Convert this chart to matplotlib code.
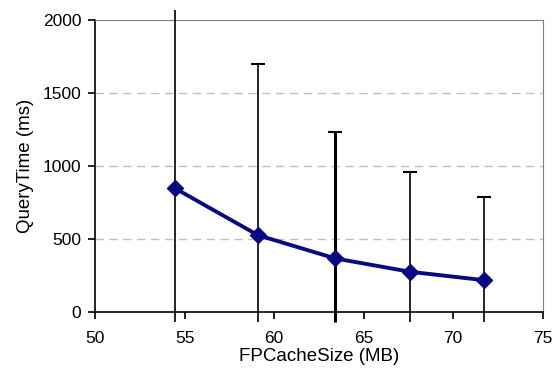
import numpy as np
import matplotlib.pyplot as plt

plt.rcParams['font.family'] = ['Liberation Sans', 'DejaVu Sans']

# data
cache_size = [54.45, 59.1, 63.4, 67.6, 71.7]
query_time = [847, 525, 366, 274, 217]
upper_end = [2070, 1697, 1233, 959, 784]
lower_end = [-70, -70, -70, -70, -70]

y = np.array(query_time)
yerr = [y - np.array(lower_end), np.array(upper_end) - y]

fig = plt.figure(figsize=(5.56, 3.77), dpi=100)
ax = fig.add_axes([0.171, 0.173, 0.805, 0.774])

# error bars (third one is drawn heavier in the original)
widths = [1.2, 1.2, 2.2, 1.2, 1.2]
for i in range(len(cache_size)):
    eb = ax.errorbar(cache_size[i], y[i], yerr=[[yerr[0][i]], [yerr[1][i]]],
                     fmt='none', ecolor='black', elinewidth=widths[i],
                     capsize=5, capthick=1.5, zorder=3)
    for art in eb.lines[1] + eb.lines[2]:
        art.set_clip_on(False)
    # only the upper cap
    eb.lines[1][0].set_visible(False)
    if i == 0:
        eb.lines[1][1].set_visible(False)  # runs off the top

ax.plot(cache_size, query_time, color='#0a0a80', linewidth=2.8,
        marker='D', markersize=8, zorder=4, clip_on=False)

ax.set_xlim(50, 75)
ax.set_ylim(0, 2000)
ax.set_xticks([50, 55, 60, 65, 70, 75])
ax.set_yticks([0, 500, 1000, 1500, 2000])

for v in [500, 1000, 1500]:
    ax.axhline(v, color='#c0c0c0', linestyle=(0, (6, 4)), linewidth=1, zorder=1)

ax.spines['top'].set_color('#808080')
ax.spines['right'].set_color('#808080')
ax.spines['left'].set_linewidth(1.2)
ax.spines['bottom'].set_linewidth(1.2)
ax.tick_params(direction='out', length=5, width=1.2, labelsize=12.5, colors='black')
ax.tick_params(axis='x', pad=9)
ax.tick_params(axis='y', pad=5)

ax.set_xlabel('FPCacheSize (MB)', fontsize=13.5, labelpad=1)
ax.set_ylabel('QueryTime (ms)', fontsize=13.5, labelpad=6)

fig.savefig('out.png', dpi=100)
